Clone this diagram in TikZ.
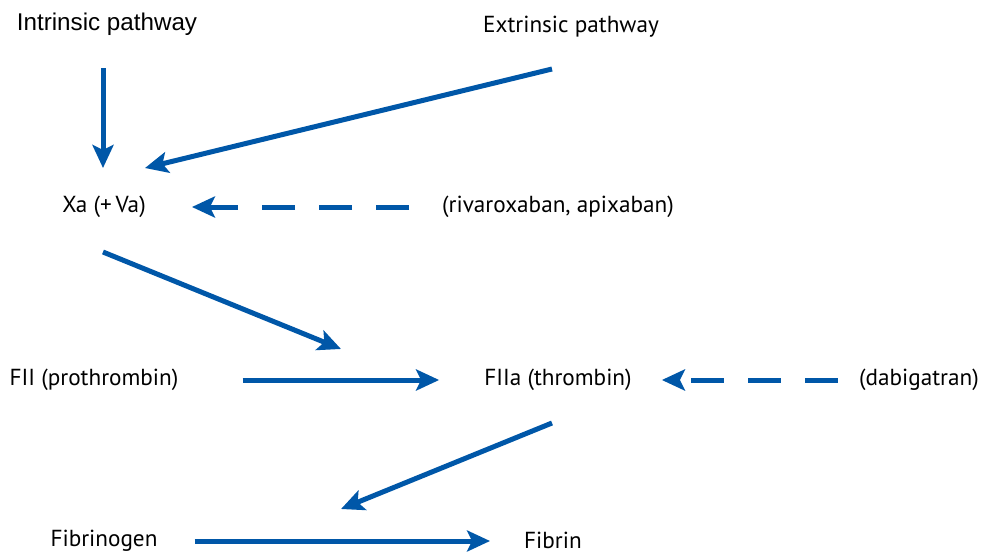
\documentclass[tikz,border=0pt]{standalone}
\usepackage{fontspec}
\setmainfont{PT Sans}
\newfontfamily\arialfont{Liberation Sans}
\usetikzlibrary{arrows.meta}
\definecolor{pathblue}{HTML}{0057A8}

\begin{document}
\begin{tikzpicture}[x=1pt,y=-1pt,
    lbl/.style={font=\fontsize{23.2}{26}\selectfont, inner sep=0pt},
    flow/.style={pathblue, line width=5pt,
      -{Stealth[length=23pt,width=21pt,inset=5pt]}},
    inhib/.style={flow, dash pattern=on 33pt off 24pt}]
      \useasboundingbox (0,0) rectangle (983,554);
      % labels
      \node[lbl, font=\arialfont\fontsize{24.2}{28}\selectfont] (intr) at (107,24) {Intrinsic pathway};
      \node[lbl] (extr) at (571,27) {Extrinsic pathway};
      \node[lbl] (xa) at (104,207) {Xa (+\,Va)};
      \node[lbl] (xadrug) at (558,207) {(rivaroxaban, apixaban)};
      \node[lbl] (fii) at (94,380) {FII (prothrombin)};
      \node[lbl] (fiia) at (558,380) {FIIa (thrombin)};
      \node[lbl] (dabi) at (919,380) {(dabigatran)};
      \node[lbl] (fgen) at (104,541) {Fibrinogen};
      \node[lbl] (fibrin) at (553,540.5) {Fibrin};
      % arrow ends
      \coordinate (intr-out) at (103,68);
      \coordinate (extr-out) at (552,69);
      \coordinate (xa-top) at (103,168);
      \coordinate (xa-side) at (145,168);
      \coordinate (xa-out) at (103,252);
      \coordinate (fiia-in) at (341,349);
      \coordinate (fiia-out) at (552,423);
      \coordinate (fgen-in) at (341,509);
      % arrows
      \draw[flow] (intr-out) -- (xa-top);
      \draw[flow] (extr-out) -- (xa-side);
      \draw[inhib] ([xshift=-33pt]xadrug.west) -- ([xshift=46pt]xa.east);
      \draw[flow] (xa-out) -- (fiia-in);
      \draw[flow] ([xshift=64pt]fii.east) -- ([xshift=-45pt]fiia.west);
      \draw[inhib] ([xshift=-21pt]dabi.west) -- ([xshift=30pt]fiia.east);
      \draw[flow] (fiia-out) -- (fgen-in);
      \draw[flow] ([xshift=37pt]fgen.east) -- ([xshift=-34pt]fibrin.west |- fgen.east);
    \end{tikzpicture}
\end{document}
